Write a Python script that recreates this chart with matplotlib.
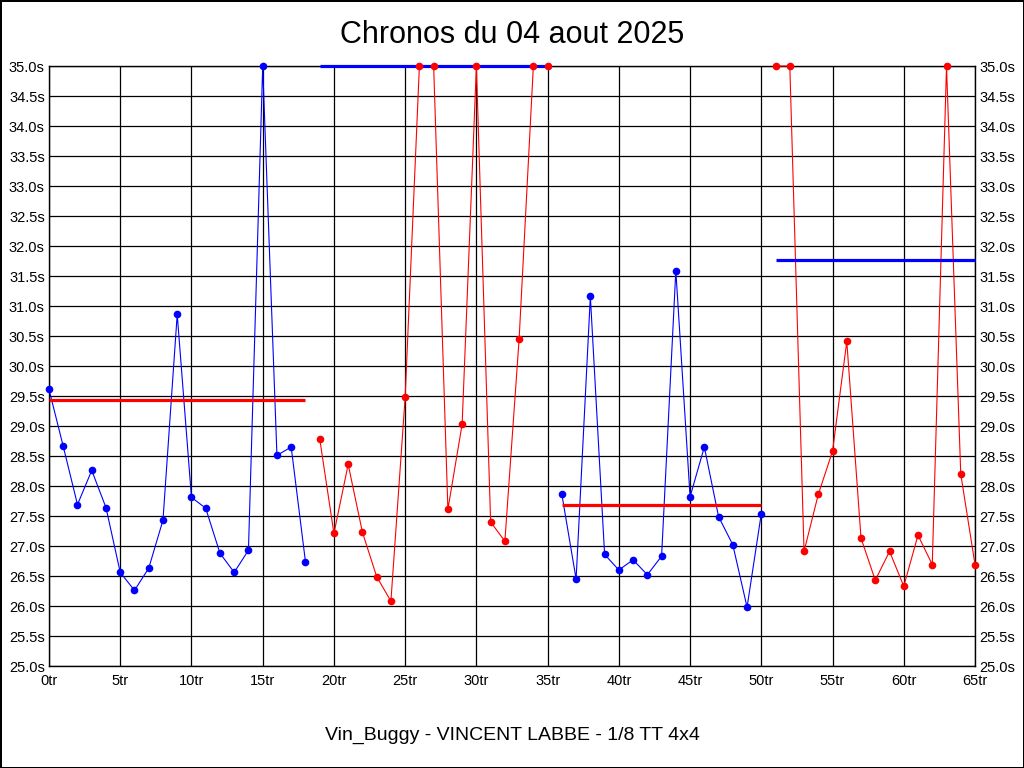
import matplotlib
matplotlib.use("Agg")
import matplotlib.pyplot as plt
from matplotlib.ticker import FuncFormatter, MultipleLocator

plt.rcParams['font.family'] = ['Liberation Sans', 'DejaVu Sans']

title = "Chronos du 04 aout 2025"
footer = "Vin_Buggy - VINCENT LABBE - 1/8 TT 4x4"

# Series 1 (blue) laps 0..18
laps1 = list(range(0, 19))
times1 = [29.61, 28.66, 27.69, 28.26, 27.64, 26.56, 26.26, 26.63, 27.43, 30.86,
          27.81, 27.63, 26.88, 26.56, 26.93, 35.0, 28.51, 28.65, 26.74]
avg1 = 29.43

# Series 2 (red) laps 19..35
laps2 = list(range(19, 36))
times2 = [28.79, 27.21, 28.36, 27.23, 26.49, 26.08, 29.48, 35.0, 35.0, 27.61,
          29.03, 35.0, 27.40, 27.08, 30.45, 35.0, 35.0]
avg2 = 35.0

# Series 3 (blue) laps 36..50
laps3 = list(range(36, 51))
times3 = [27.86, 26.45, 31.16, 26.86, 26.60, 26.77, 26.52, 26.83, 31.59, 27.82,
          28.65, 27.49, 27.02, 25.98, 27.54]
avg3 = 27.68

# Series 4 (red) laps 51..65
laps4 = list(range(51, 66))
times4 = [35.0, 35.0, 26.91, 27.86, 28.58, 30.41, 27.13, 26.43, 26.91, 26.33,
          27.18, 26.69, 35.0, 28.20, 26.69]
avg4 = 31.77

series = [
    (laps1, times1, avg1, '#0000FF', '#FF0000'),
    (laps2, times2, avg2, '#FF0000', '#0000FF'),
    (laps3, times3, avg3, '#0000FF', '#FF0000'),
    (laps4, times4, avg4, '#FF0000', '#0000FF'),
]

fig = plt.figure(figsize=(10.24, 7.68), dpi=100)
fig.patch.set_facecolor('white')
fig.patch.set_edgecolor('black')
fig.patch.set_linewidth(2)

ax = fig.add_axes([49/1024, 1 - 666/768, (975-49)/1024, (666-66)/768])

for laps, times, avg, col, avgcol in series:
    ax.plot(laps, times, color=col, linewidth=0.8, clip_on=False, zorder=3)
    ax.plot(laps, times, linestyle='none', marker='o', markersize=5.5,
            markerfacecolor=col, markeredgewidth=0, clip_on=False, zorder=5)
    ax.plot([laps[0], laps[-1]], [avg, avg], color=avgcol, linewidth=2.3,
            solid_capstyle='butt', clip_on=False, zorder=4)

ax.set_xlim(0, 65)
ax.set_ylim(25, 35)
ax.xaxis.set_major_locator(MultipleLocator(5))
ax.yaxis.set_major_locator(MultipleLocator(0.5))
ax.xaxis.set_major_formatter(FuncFormatter(lambda v, p: f"{int(round(v))}tr"))
ax.yaxis.set_major_formatter(FuncFormatter(lambda v, p: f"{v:.1f}s"))
ax.grid(True, color='black', linewidth=0.9)
ax.set_axisbelow(True)
for s in ax.spines.values():
    s.set_color('black')
    s.set_linewidth(1)
ax.tick_params(axis='both', length=0, labelsize=10.5, colors='black')
ax.tick_params(axis='y', which='both', labelleft=True, labelright=True, pad=3)
ax.tick_params(axis='x', pad=6)

fig.text(0.5, 1 - 35/768, title, ha='center', va='center', fontsize=22, color='black')
fig.text(0.5, 1 - 735/768, footer, ha='center', va='center', fontsize=14, color='black')

fig.savefig("out.png", dpi=100)
